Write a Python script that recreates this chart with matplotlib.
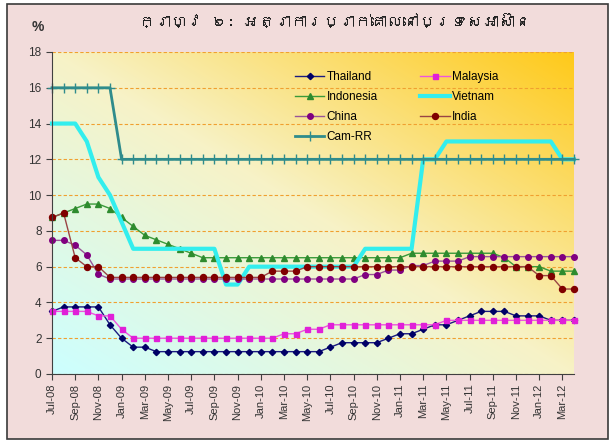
"""
Policy rates in ASEAN and neighbours, Jul-08 to Apr-12
"""
import matplotlib
matplotlib.use('Agg')
import matplotlib.pyplot as plt
from matplotlib import font_manager
from matplotlib.patches import Rectangle
import numpy as np

# DATA
#####################
months = ['Jul-08', 'Aug-08', 'Sep-08', 'Oct-08', 'Nov-08', 'Dec-08',
          'Jan-09', 'Feb-09', 'Mar-09', 'Apr-09', 'May-09', 'Jun-09',
          'Jul-09', 'Aug-09', 'Sep-09', 'Oct-09', 'Nov-09', 'Dec-09',
          'Jan-10', 'Feb-10', 'Mar-10', 'Apr-10', 'May-10', 'Jun-10',
          'Jul-10', 'Aug-10', 'Sep-10', 'Oct-10', 'Nov-10', 'Dec-10',
          'Jan-11', 'Feb-11', 'Mar-11', 'Apr-11', 'May-11', 'Jun-11',
          'Jul-11', 'Aug-11', 'Sep-11', 'Oct-11', 'Nov-11', 'Dec-11',
          'Jan-12', 'Feb-12', 'Mar-12', 'Apr-12']

thailand = [3.5, 3.75, 3.75, 3.75, 3.75, 2.75, 2.0, 1.5, 1.5, 1.25,
            1.25, 1.25, 1.25, 1.25, 1.25, 1.25, 1.25, 1.25, 1.25, 1.25,
            1.25, 1.25, 1.25, 1.25, 1.5, 1.75, 1.75, 1.75, 1.75, 2.0,
            2.25, 2.25, 2.5, 2.75, 2.75, 3.0, 3.25, 3.5, 3.5, 3.5,
            3.25, 3.25, 3.25, 3.0, 3.0, 3.0]
malaysia = [3.5, 3.5, 3.5, 3.5, 3.25, 3.25, 2.5, 2.0, 2.0, 2.0,
            2.0, 2.0, 2.0, 2.0, 2.0, 2.0, 2.0, 2.0, 2.0, 2.0,
            2.25, 2.25, 2.5, 2.5, 2.75, 2.75, 2.75, 2.75, 2.75, 2.75,
            2.75, 2.75, 2.75, 2.75, 3.0, 3.0, 3.0, 3.0, 3.0, 3.0,
            3.0, 3.0, 3.0, 3.0, 3.0, 3.0]
indonesia = [8.75, 9.0, 9.25, 9.5, 9.5, 9.25, 8.75, 8.25, 7.75, 7.5,
             7.25, 7.0, 6.75, 6.5, 6.5, 6.5, 6.5, 6.5, 6.5, 6.5,
             6.5, 6.5, 6.5, 6.5, 6.5, 6.5, 6.5, 6.5, 6.5, 6.5,
             6.5, 6.75, 6.75, 6.75, 6.75, 6.75, 6.75, 6.75, 6.75, 6.5,
             6.0, 6.0, 6.0, 5.75, 5.75, 5.75]
vietnam = [14, 14, 14, 13, 11, 10, 8.5, 7, 7, 7,
           7, 7, 7, 7, 7, 5, 5, 6, 6, 6,
           6, 6, 6, 6, 6, 6, 6, 7, 7, 7,
           7, 7, 12, 12, 13, 13, 13, 13, 13, 13,
           13, 13, 13, 13, 12, 12]
china = [7.47, 7.47, 7.2, 6.66, 5.58, 5.31, 5.31, 5.31, 5.31, 5.31,
         5.31, 5.31, 5.31, 5.31, 5.31, 5.31, 5.31, 5.31, 5.31, 5.31,
         5.31, 5.31, 5.31, 5.31, 5.31, 5.31, 5.31, 5.56, 5.56, 5.81,
         5.81, 6.06, 6.06, 6.31, 6.31, 6.31, 6.56, 6.56, 6.56, 6.56,
         6.56, 6.56, 6.56, 6.56, 6.56, 6.56]
india = [8.75, 9.0, 6.5, 6.0, 6.0, 5.4, 5.4, 5.4, 5.4, 5.4,
         5.4, 5.4, 5.4, 5.4, 5.4, 5.4, 5.4, 5.4, 5.4, 5.75,
         5.75, 5.75, 6.0, 6.0, 6.0, 6.0, 6.0, 6.0, 6.0, 6.0,
         6.0, 6.0, 6.0, 6.0, 6.0, 6.0, 6.0, 6.0, 6.0, 6.0,
         6.0, 6.0, 5.5, 5.5, 4.75, 4.75]
cam_rr = [16, 16, 16, 16, 16, 16, 12, 12, 12, 12,
          12, 12, 12, 12, 12, 12, 12, 12, 12, 12,
          12, 12, 12, 12, 12, 12, 12, 12, 12, 12,
          12, 12, 12, 12, 12, 12, 12, 12, 12, 12,
          12, 12, 12, 12, 12, 12]

title = 'ក្រាហ្វ ៦: អត្រាការប្រាក់គោលនៅប្រទេសអាស៊ាន'


def khmer_family():
    '''look for an installed font that has Khmer glyphs'''
    try:
        from fontTools.ttLib import TTFont
    except ImportError:
        return None
    for f in font_manager.fontManager.ttflist:
        try:
            cmap = TTFont(f.fname, fontNumber=0, lazy=True).getBestCmap()
            if cmap and 0x1780 in cmap:
                return f.name
        except Exception:
            pass
    return None


plt.rcParams['font.family'] = ['Liberation Sans', 'DejaVu Sans']

W, H = 616, 443
fig = plt.figure(figsize=(W / 100, H / 100), dpi=100, facecolor='white')
# pink panel with dark frame, behind the axes
fig.patches.append(Rectangle((7 / W, 4 / H), 601 / W, 435 / H, transform=fig.transFigure,
                             facecolor='#F2DCDB', edgecolor='#3A3A3A', lw=1.2, zorder=-5))

ax = fig.add_axes([52 / W, 1 - 374 / H, (574 - 52) / W, (374 - 52) / H])
ax.set_facecolor('none')

# diagonal gradient: light cyan (bottom-left) -> cream -> gold (top-right)
n = 200
gx, gy = np.meshgrid(np.linspace(0, 1, n), np.linspace(1, 0, n))
t = (gx + gy) / 2
c0 = np.array([0.80, 1.00, 1.00])
c1 = np.array([0.97, 0.95, 0.78])
c2 = np.array([1.00, 0.79, 0.10])
lo = np.clip(t * 2, 0, 1)[..., None]
hi = np.clip(t * 2 - 1, 0, 1)[..., None]
grad = np.where(t[..., None] < 0.5, c0 + (c1 - c0) * lo, c1 + (c2 - c1) * hi)
ax.imshow(grad, extent=(0, 1, 0, 1), transform=ax.transAxes, aspect='auto',
          zorder=0, interpolation='bilinear')

x = np.arange(len(months))

ax.plot(x, thailand, color='#1A1A80', marker='D', ms=3.2, mfc='#000066', mec='#000066',
        lw=1, label='Thailand', clip_on=False, zorder=3)
ax.plot(x, malaysia, color='#EE55DD', marker='s', ms=3.6, mfc='#E020D8', mec='#E020D8',
        lw=1, label='Malaysia', clip_on=False, zorder=3)
ax.plot(x, indonesia, color='#3A9A3A', marker='^', ms=4.2, mfc='#2E8B2E', mec='#2E8B2E',
        lw=1, label='Indonesia', clip_on=False, zorder=3)
ax.plot(x, vietnam, color='#33EEEE', lw=3, label='Vietnam', clip_on=False, zorder=3)
ax.plot(x, china, color='#995599', marker='o', ms=4, mfc='#800080', mec='#800080',
        lw=1, label='China', clip_on=False, zorder=3)
ax.plot(x, india, color='#9A4444', marker='o', ms=4.3, mfc='#800000', mec='#800000',
        lw=1, label='India', clip_on=False, zorder=3)
ax.plot(x, cam_rr, color='#2F8C8C', marker='+', ms=7, mew=1, lw=2,
        label='Cam-RR', clip_on=False, zorder=3)

ax.set_xlim(0, len(months) - 1)
ax.set_ylim(0, 18)
ax.set_yticks(np.arange(0, 19, 2))
ax.set_xticks(x[::2])
ax.set_xticklabels(months[::2], rotation=90, fontsize=8, color='#333333')
ax.tick_params(axis='y', labelsize=8.5, labelcolor='#333333', length=4, color='#404040')
ax.tick_params(axis='x', length=4, color='#404040', pad=3)

ax.yaxis.grid(True, color='#F0A030', linestyle=(0, (3, 2)), lw=0.8)
ax.set_axisbelow(True)
for s in ['top', 'right']:
    ax.spines[s].set_visible(False)
for s in ['left', 'bottom']:
    ax.spines[s].set_color('#404040')
    ax.spines[s].set_zorder(4)

h, l = ax.get_legend_handles_labels()
order = [0, 2, 4, 6, 1, 3, 5]
ax.legend([h[i] for i in order], [l[i] for i in order], ncol=2, frameon=False,
          loc='upper left', bbox_to_anchor=(0.445, 0.975), fontsize=8.5,
          handlelength=2.5, labelspacing=0.7, columnspacing=3.6, handletextpad=0.2)

kf = khmer_family()
fam = [kf, 'DejaVu Sans'] if kf else ['DejaVu Sans']
fig.text(335 / W, 1 - 22 / H, title, ha='center', va='center', fontsize=11.5,
         family=fam, color='#222222')
fig.text(38 / W, 1 - 27 / H, '%', ha='center', va='center', fontsize=10,
         fontweight='bold', color='#333333')

fig.savefig('out.png', dpi=100, facecolor='white')
